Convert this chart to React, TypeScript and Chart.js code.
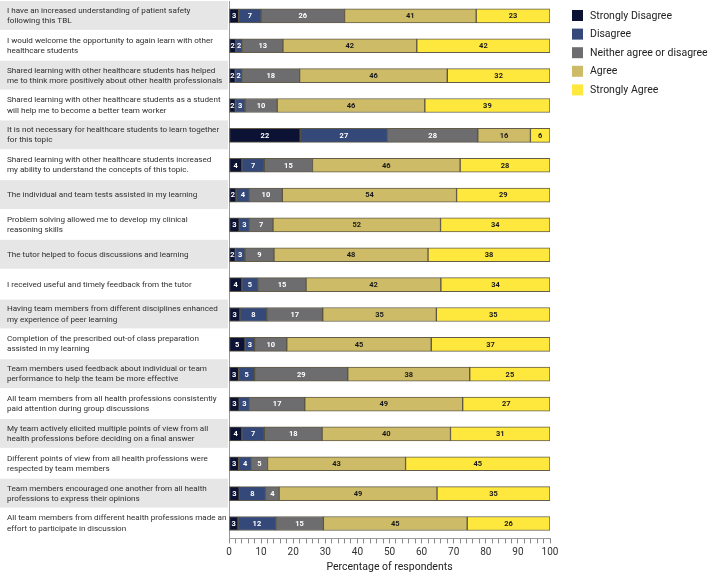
import React, { useEffect, useRef } from 'react';
import { Chart, registerables } from 'chart.js';

Chart.register(...registerables);

const categories: string[][] = [
  ['I have an increased understanding of patient safety', 'following this TBL'],
  ['I would welcome the opportunity to again learn with other', 'healthcare students'],
  ['Shared learning with other healthcare students has helped', 'me to think more positively about other health professionals'],
  ['Shared learning with other healthcare students as a student', 'will help me to become a better team worker'],
  ['It is not necessary for healthcare students to learn together', 'for this topic'],
  ['Shared learning with other healthcare students increased', 'my ability to understand the concepts of this topic.'],
  ['The individual and team tests assisted in my learning'],
  ['Problem solving allowed me to develop my clinical', 'reasoning skills'],
  ['The tutor helped to focus discussions and learning'],
  ['I received useful and timely feedback from the tutor'],
  ['Having team members from different disciplines enhanced', 'my experience of peer learning'],
  ['Completion of the prescribed out-of class preparation', 'assisted in my learning'],
  ['Team members used feedback about individual or team', 'performance to help the team be more effective'],
  ['All team members from all health professions consistently', 'paid attention during group discussions'],
  ['My team actively elicited multiple points of view from all', 'health professions before deciding on a final answer'],
  ['Different points of view from all health professions were', 'respected by team members'],
  ['Team members encouraged one another from all health', 'professions to express their opinions'],
  ['All team members from different health professions made an', 'effort to participate in discussion'],
];

const stronglyDisagree = [3, 2.1, 2, 2, 22.2, 4, 2.2, 3.2, 2, 4, 3.4, 5, 3, 3.2, 4, 3, 3.2, 2.8];
const disagree = [7, 2.1, 2, 3, 27.2, 7, 4.2, 3.2, 3, 5, 8.4, 3, 5, 3.2, 7, 4, 8.2, 11.8];
const neither = [26, 12.6, 18, 10, 28.1, 15, 10.2, 7.3, 9, 15, 17.4, 10, 29, 17.2, 18, 5, 4.2, 14.8];
const agree = [41, 41.7, 46, 46, 16.4, 46, 54.3, 52.2, 48, 42, 35.4, 45, 38, 49.2, 40, 43, 49.2, 44.8];
const stronglyAgree = [23, 41.5, 32, 39, 6.1, 28, 29.1, 34.1, 38, 34, 35.4, 37, 25, 27.2, 31, 45, 35.2, 25.8];

const seriesNames = ['Strongly Disagree', 'Disagree', 'Neither agree or disagree', 'Agree', 'Strongly Agree'];
const seriesValues = [stronglyDisagree, disagree, neither, agree, stronglyAgree];
const seriesColors = ['#0b1233', '#34497a', '#6d6d6f', '#cdbb68', '#ffe83d'];
const labelColors = ['#ffffff', '#ffffff', '#ffffff', '#1a1a1a', '#1a1a1a'];

const xAxisTitle = 'Percentage of respondents';

const LABEL_FONT = 'Roboto';

const bandPlugin = {
  id: 'rowBands',
  beforeDraw(chart: any) {
    const { ctx, chartArea, scales } = chart;
    const y = scales.y;
    const h = Math.abs(y.getPixelForValue(1) - y.getPixelForValue(0));
    ctx.save();
    ctx.fillStyle = '#e6e6e6';
    for (let i = 0; i < categories.length; i += 2) {
      const c = y.getPixelForValue(i);
      ctx.fillRect(0, c - h / 2, chartArea.left - 1, h - 1);
    }
    ctx.restore();
  },
};

const valueLabelPlugin = {
  id: 'valueLabels',
  afterDatasetsDraw(chart: any) {
    const { ctx } = chart;
    ctx.save();
    ctx.font = `bold 7.5px ${LABEL_FONT}`;
    ctx.textAlign = 'center';
    ctx.textBaseline = 'middle';
    chart.data.datasets.forEach((ds: any, di: number) => {
      const meta = chart.getDatasetMeta(di);
      meta.data.forEach((el: any, i: number) => {
        const v = ds.data[i];
        const p = el.getProps(['x', 'base', 'y'], true);
        ctx.fillStyle = labelColors[di];
        ctx.fillText(String(Math.round(v)), (p.x + p.base) / 2, p.y + 0.5);
      });
    });
    ctx.restore();
  },
};

const legendPlugin = {
  id: 'sideLegend',
  afterDraw(chart: any) {
    const { ctx, chartArea } = chart;
    const x0 = chartArea.right + 22;
    ctx.save();
    ctx.font = `10.5px ${LABEL_FONT}`;
    ctx.textBaseline = 'middle';
    ctx.textAlign = 'left';
    chart.data.datasets.forEach((ds: any, i: number) => {
      const yTop = 10 + i * 18.6;
      ctx.fillStyle = ds.backgroundColor;
      ctx.fillRect(x0, yTop, 11, 11);
      ctx.fillStyle = '#222';
      ctx.fillText(ds.label, x0 + 18, yTop + 6);
    });
    ctx.restore();
  },
};

export default function App() {
  const ref = useRef<HTMLCanvasElement | null>(null);

  useEffect(() => {
    document.body.style.margin = '0';
    if (!ref.current) return;
    const chart = new Chart(ref.current, {
      type: 'bar',
      data: {
        labels: categories,
        datasets: seriesNames.map((name, i) => ({
          label: name,
          data: seriesValues[i],
          backgroundColor: seriesColors[i],
          borderColor: 'rgba(70, 64, 40, 0.85)',
          borderWidth: 1,
          borderSkipped: false,
          barThickness: 14,
        })),
      },
      options: {
        indexAxis: 'y',
        responsive: false,
        animation: false,
        layout: { padding: { left: 7, right: 159, top: 1, bottom: 0 } },
        plugins: {
          legend: { display: false },
          tooltip: { enabled: false },
        },
        scales: {
          x: {
            stacked: true,
            min: 0,
            max: 100,
            ticks: {
              stepSize: 2,
              autoSkip: false,
              maxRotation: 0,
              padding: 3,
              color: '#333',
              font: { family: LABEL_FONT, size: 10 },
              callback: (v: any) => (Number(v) % 10 === 0 ? String(v) : ''),
            },
            grid: { drawOnChartArea: false, drawTicks: true, tickLength: 5, color: '#888' },
            border: { display: true, color: '#999' },
            title: {
              display: true,
              text: xAxisTitle,
              color: '#222',
              font: { family: LABEL_FONT, size: 10.5 },
              padding: { top: 0, bottom: 0 },
            },
          },
          y: {
            stacked: true,
            ticks: {
              crossAlign: 'far',
              padding: 0,
              color: '#2e2e2e',
              autoSkip: false,
              font: { family: LABEL_FONT, size: 8.1, lineHeight: 1.25 },
            },
            grid: { display: false },
            border: { display: true, color: '#999' },
            afterFit: (scale: any) => {
              scale.width = 222;
              scale.paddingTop = 0;
              scale.paddingBottom = 0;
            },
          },
        },
      },
      plugins: [bandPlugin, valueLabelPlugin, legendPlugin],
    } as any);
    return () => chart.destroy();
  }, []);

  return (
    <div style={{ width: 709, height: 574 }}>
      <canvas ref={ref} width={709} height={574} />
    </div>
  );
}
